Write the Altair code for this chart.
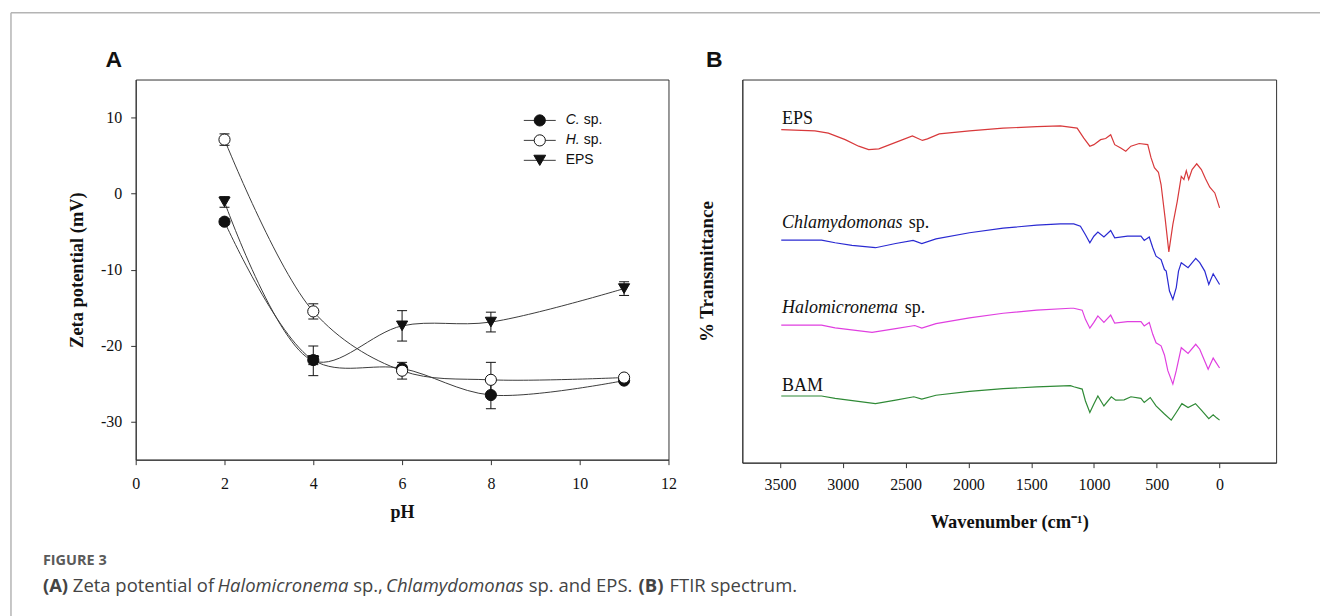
import altair as alt
import pandas as pd

# ---------------- Panel A: zeta potential ----------------
ph = [2, 4, 6, 8, 11]
series_a = ["C. sp.", "H. sp.", "EPS"]
c_sp = [-3.7, -21.9, -23.0, -26.5, -24.6]
c_err = [0.4, 0.6, 0.4, 1.8, 0.3]
h_sp = [7.1, -15.5, -23.3, -24.5, -24.2]
h_err = [0.75, 1.0, 1.1, 2.3, 0.4]
eps_z = [-1.1, -22.0, -17.4, -16.9, -12.5]
eps_err = [0.7, 1.95, 2.0, 1.3, 0.9]

legend_italic = ["C.", "H.", ""]
legend_plain = ["sp.", "sp.", "EPS"]

x_ticks_a = [0, 2, 4, 6, 8, 10, 12]
y_ticks_a = [-30, -20, -10, 0, 10]

# ---------------- Panel B: FTIR spectra ----------------
spectra_names = ["EPS", "Chlamydomonas", "Halomicronema", "BAM"]
spectra_colors = ["#d8393b", "#2a2ad2", "#e03fe0", "#2f8a36"]

eps_wn = [3490, 3222, 3115, 2981, 2874, 2794, 2713, 2579, 2446, 2366, 2326, 2232,
          1991, 1723, 1456, 1268, 1134, 1081, 1033, 1001, 947, 907, 867, 835, 787,
          747, 706, 640, 572, 546, 519, 487, 466, 434, 404, 372, 337, 305, 284, 265,
          246, 219, 182, 145, 112, 78, 38, 0]
eps_t = [86.9, 86.6, 86.0, 84.3, 82.6, 81.7, 81.9, 83.6, 85.3, 84.1, 84.5, 85.8,
         86.6, 87.3, 87.7, 87.9, 87.3, 84.7, 82.6, 83.0, 84.3, 84.6, 85.6, 83.0, 82.1,
         81.3, 82.6, 83.3, 83.0, 79.6, 77.0, 75.8, 72.6, 63.9, 55.0, 62.2, 68.2, 74.7,
         73.9, 76.2, 73.9, 76.5, 78.0, 76.5, 74.1, 71.9, 70.4, 66.5]

chl_wn = [3490, 3169, 3061, 2927, 2740, 2579, 2440, 2371, 2258, 1991, 1723, 1456,
          1268, 1161, 1108, 1068, 1033, 1001, 969, 921, 867, 835, 733, 626, 600, 560,
          532, 506, 466, 439, 425, 399, 372, 345, 327, 305, 251, 190, 158, 118, 86, 51, 0]
chl_t = [58.1, 58.1, 57.4, 56.7, 56.1, 57.2, 58.0, 57.2, 58.4, 60.0, 61.2, 62.0,
         62.3, 62.3, 61.7, 59.5, 57.4, 59.1, 60.2, 58.9, 60.6, 58.7, 59.1, 59.1, 58.0,
         58.9, 56.1, 53.9, 53.0, 50.4, 50.0, 44.8, 42.6, 45.7, 50.0, 52.2, 50.9, 53.3,
         52.2, 50.0, 46.5, 49.3, 46.5]

hal_wn = [3490, 3169, 3061, 2767, 2579, 2427, 2371, 2258, 1991, 1723, 1456, 1188,
          1161, 1094, 1068, 1033, 1001, 969, 921, 867, 835, 733, 626, 600, 560, 532,
          506, 466, 439, 412, 372, 345, 305, 251, 190, 158, 91, 51, 0]
hal_t = [35.9, 35.9, 35.2, 34.0, 35.0, 35.8, 35.1, 36.3, 37.8, 39.0, 39.8, 40.3,
         40.3, 39.8, 37.4, 35.1, 36.6, 38.3, 36.6, 38.5, 36.4, 36.8, 36.8, 35.7, 36.6,
         33.5, 31.3, 30.5, 28.1, 24.0, 20.5, 24.0, 30.0, 28.5, 30.9, 29.6, 24.4, 27.3, 24.7]

bam_wn = [3490, 3169, 3061, 2740, 2579, 2434, 2371, 2258, 1991, 1723, 1456, 1188,
          1161, 1094, 1068, 1033, 1001, 969, 921, 862, 827, 760, 706, 626, 600, 552,
          506, 439, 385, 345, 300, 251, 192, 145, 86, 51, 24, 0]
bam_t = [17.4, 17.4, 16.8, 15.4, 16.3, 17.2, 16.6, 17.6, 18.6, 19.3, 19.8, 20.1,
         19.8, 19.2, 16.1, 13.1, 15.3, 17.4, 14.8, 17.2, 16.3, 16.4, 17.2, 16.8, 15.7,
         17.0, 14.8, 12.7, 11.1, 13.1, 15.4, 14.4, 15.4, 13.7, 11.5, 12.5, 11.7, 11.1]

x_ticks_b = [0, 500, 1000, 1500, 2000, 2500, 3000, 3500]

caption_title = "FIGURE 3"
caption_parts = ["(A)", "Zeta potential of", "Halomicronema", "sp.,", "Chlamydomonas",
                 "sp. and EPS.", "(B)", "FTIR spectrum."]
caption_styles = ["bold", "normal", "italic", "normal", "italic", "normal", "bold", "normal"]

# ---------------- build tables ----------------
rows = []
for name, vals, errs in zip(series_a, [c_sp, h_sp, eps_z], [c_err, h_err, eps_err]):
    for p, v, e in zip(ph, vals, errs):
        rows.append({"series": name, "ph": p, "zeta": v, "lo": v - e, "hi": v + e})
df_a = pd.DataFrame(rows)

rows = []
for name, wn, t in zip(spectra_names, [eps_wn, chl_wn, hal_wn, bam_wn],
                       [eps_t, chl_t, hal_t, bam_t]):
    for i, (w, v) in enumerate(zip(wn, t)):
        rows.append({"sample": name, "wn": w, "t": v, "idx": i})
df_b = pd.DataFrame(rows)

one = pd.DataFrame({"k": [0]})  # single row for annotation marks

SERIF = "Liberation Serif"
SANS = "Liberation Sans"
CAPF = "Open Sans"
INK = "#111111"

# ---------------- Panel A ----------------
WA, HA = 534, 381
scale_xa = alt.Scale(domain=[0, 12], nice=False, zero=False)
scale_ya = alt.Scale(domain=[-35, 15], nice=False, zero=False)
axis_xa = alt.Axis(values=x_ticks_a, title="pH", grid=False, tickSize=5, labelPadding=11,
                   titlePadding=12, labelFont=SERIF, labelFontSize=16, labelColor=INK,
                   titleFont=SERIF, titleFontSize=18, titleFontWeight="bold", titleColor=INK,
                   domainColor="#333", tickColor="#333", labelFlush=False)
axis_ya = alt.Axis(values=y_ticks_a, title="Zeta potential (mV)", grid=False, tickSize=5,
                   labelPadding=9, titlePadding=14, labelFont=SERIF, labelFontSize=16,
                   labelColor=INK, titleFont=SERIF, titleFontSize=18.5, titleFontWeight="bold",
                   titleColor=INK, domainColor="#333", tickColor="#333",
                   labelExpr="datum.value < 0 ? '-' + abs(datum.value) : '' + datum.value")

def XA():
    return alt.X("ph:Q", scale=scale_xa, axis=axis_xa, title="pH")

def YA(field):
    return alt.Y(field, type="quantitative", scale=scale_ya, axis=axis_ya,
                 title="Zeta potential (mV)")

def note(**kw):
    return alt.Chart(one).mark_text(**kw)

base_a = alt.Chart(df_a)
lines_a = base_a.mark_line(interpolate="catmull-rom", color="#3c3c3c", strokeWidth=1).encode(
    x=XA(), y=YA("zeta"), detail="series:N")
err_a = base_a.mark_rule(color=INK, strokeWidth=1).encode(x=XA(), y=YA("lo"), y2="hi:Q")
cap_lo = base_a.mark_tick(orient="horizontal", size=10, thickness=1, color=INK, opacity=1).encode(
    x=XA(), y=YA("lo"))
cap_hi = base_a.mark_tick(orient="horizontal", size=10, thickness=1, color=INK, opacity=1).encode(
    x=XA(), y=YA("hi"))
shape_scale = alt.Scale(domain=series_a, range=["circle", "circle", "triangle-down"])
fill_scale = alt.Scale(domain=series_a, range=[INK, "#ffffff", INK])
size_scale = alt.Scale(domain=series_a, range=[125, 125, 140])
pts_a = base_a.mark_point(filled=True, stroke=INK, strokeWidth=1, opacity=1).encode(
    x=XA(), y=YA("zeta"),
    shape=alt.Shape("series:N", scale=shape_scale, legend=None),
    fill=alt.Fill("series:N", scale=fill_scale, legend=None),
    size=alt.Size("series:N", scale=size_scale, legend=None))

layers_a = [lines_a, err_a, cap_lo, cap_hi, pts_a]

# manual legend (line + marker + label)
legend_shapes = ["circle", "circle", "triangle-down"]
legend_fills = [INK, "#ffffff", INK]
for i in range(3):
    yy = 41 + 20 * i
    layers_a.append(alt.Chart(one).mark_rule(color="#3c3c3c", strokeWidth=1).encode(
        x=alt.value(389), x2=alt.value(421), y=alt.value(yy)))
    layers_a.append(alt.Chart(one).mark_point(
        shape=legend_shapes[i], filled=True, fill=legend_fills[i], stroke=INK, strokeWidth=1,
        size=125 if i < 2 else 140, opacity=1).encode(x=alt.value(405), y=alt.value(yy)))
    if legend_italic[i]:
        layers_a.append(note(text=legend_italic[i], font=SANS, fontSize=14, fontStyle="italic",
                             color=INK, align="left", baseline="middle").encode(
            x=alt.value(431), y=alt.value(yy)))
        layers_a.append(note(text=legend_plain[i], font=SANS, fontSize=14, color=INK,
                             align="left", baseline="middle").encode(
            x=alt.value(449), y=alt.value(yy)))
    else:
        layers_a.append(note(text=legend_plain[i], font=SANS, fontSize=14, color=INK,
                             align="left", baseline="middle").encode(
            x=alt.value(431), y=alt.value(yy)))

# panel letter A
layers_a.append(note(text="A", font=SANS, fontSize=23, fontWeight="bold", color=INK,
                     align="center", baseline="middle").encode(
    x=alt.value(-22), y=alt.value(-20)))

# page frame lines and top-left anchor
layers_a.append(alt.Chart(one).mark_rule(color="#ffffff", strokeWidth=0.01).encode(
    x=alt.value(-135), y=alt.value(-78), y2=alt.value(-77)))
layers_a.append(alt.Chart(one).mark_rule(color="#b4b4b4", strokeWidth=1.5).encode(
    x=alt.value(-125), x2=alt.value(1187), y=alt.value(-67)))
layers_a.append(alt.Chart(one).mark_rule(color="#b4b4b4", strokeWidth=1.5).encode(
    x=alt.value(-125), y=alt.value(-67), y2=alt.value(538)))

# caption
layers_a.append(note(text=caption_title, font=CAPF, fontSize=14.5, fontWeight="bold",
                     color="#5a5a5a", align="left", baseline="middle").encode(
    x=alt.value(-93), y=alt.value(483)))
caption_x = [-93, -63, 82, 218, 251, 394, 504, 535]
for txt, st, xx in zip(caption_parts, caption_styles, caption_x):
    kw = {}
    if st == "bold":
        kw["fontWeight"] = "bold"
    if st == "italic":
        kw["fontStyle"] = "italic"
    layers_a.append(note(text=txt, font=CAPF, fontSize=18.5, color="#444444", align="left",
                         baseline="middle", **kw).encode(x=alt.value(xx), y=alt.value(508)))

panel_a = alt.layer(*layers_a).properties(width=WA, height=HA)

# ---------------- Panel B ----------------
WB, HB = 535, 384
scale_xb = alt.Scale(domain=[-450, 3800], reverse=True, nice=False, zero=False)
scale_yb = alt.Scale(domain=[0, 100], nice=False, zero=False)
axis_xb = alt.Axis(values=x_ticks_b, format="d", title="Wavenumber (cm\u207b\u00b9)", grid=False,
                   tickSize=5, labelPadding=9, titlePadding=20, labelFont=SERIF,
                   labelFontSize=16, labelColor=INK, titleFont=SERIF, titleFontSize=18.5,
                   titleFontWeight="bold", titleColor=INK, domainColor="#333",
                   tickColor="#333", labelFlush=False)
axis_yb = alt.Axis(title="% Transmittance", labels=False, ticks=False, grid=False,
                   titlePadding=26, titleFont=SERIF, titleFontSize=19,
                   titleFontWeight="bold", titleColor=INK, domainColor="#333")

color_scale = alt.Scale(domain=spectra_names, range=spectra_colors)
spec = alt.Chart(df_b).mark_line(strokeWidth=1.2).encode(
    x=alt.X("wn:Q", scale=scale_xb, axis=axis_xb, title="Wavenumber (cm\u207b\u00b9)"),
    y=alt.Y("t:Q", scale=scale_yb, axis=axis_yb, title="% Transmittance"),
    color=alt.Color("sample:N", scale=color_scale, legend=None),
    order=alt.Order("idx:Q"))

layers_b = [spec]
label_italic = [False, True, True, False]
label_t = [88.4, 61.3, 39.1, 18.6]
sp_dx = [0, 127, 123, 0]
for name, ital, tv, dx in zip(spectra_names, label_italic, label_t, sp_dx):
    layers_b.append(note(text=name, font=SERIF, fontSize=18,
                         fontStyle="italic" if ital else "normal", color=INK, align="left",
                         baseline="alphabetic").encode(x=alt.datum(3484), y=alt.datum(tv)))
    if ital:
        layers_b.append(note(text="sp.", font=SERIF, fontSize=18, color=INK, align="left",
                             baseline="alphabetic", dx=dx).encode(
            x=alt.datum(3484), y=alt.datum(tv)))

layers_b.append(note(text="B", font=SANS, fontSize=23, fontWeight="bold", color=INK,
                     align="center", baseline="middle").encode(
    x=alt.value(-28), y=alt.value(-20)))

panel_b = alt.layer(*layers_b).properties(width=WB, height=HB)

chart = alt.hconcat(panel_a, panel_b, spacing=74, bounds="flush").properties(
    padding=0, background="white"
).configure_view(stroke="#333", strokeWidth=1)

chart.save("out.html", embed_options={"renderer": "svg", "actions": False})
